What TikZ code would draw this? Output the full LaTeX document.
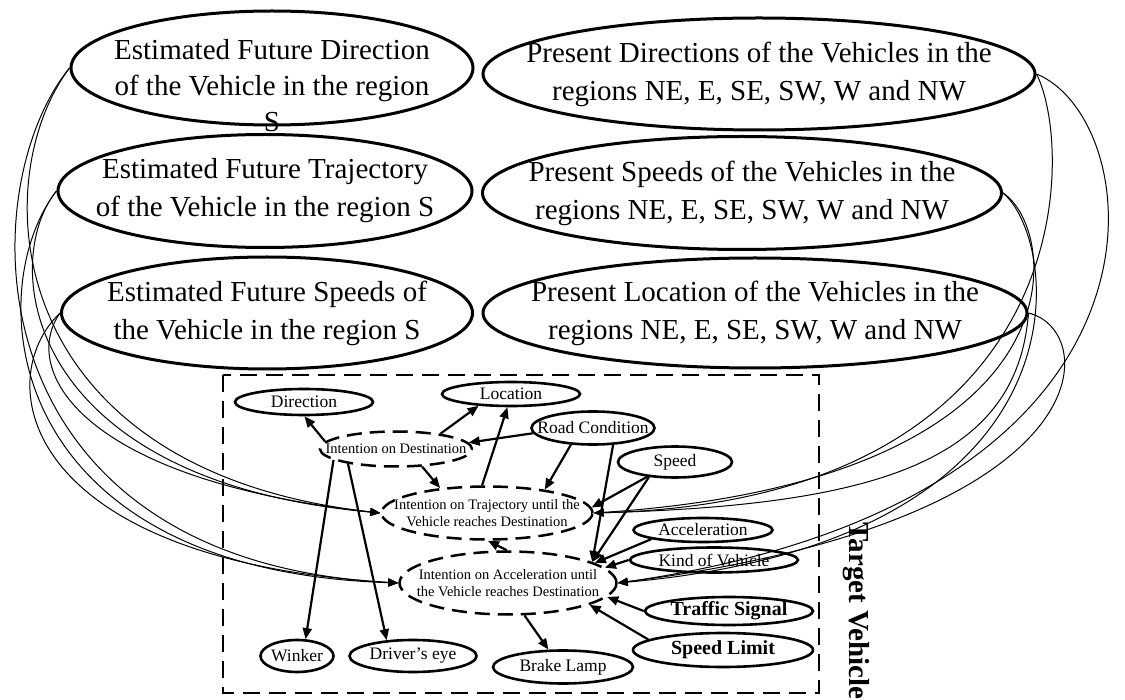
\documentclass[tikz,border=0pt]{standalone}
\usepackage{fontspec}
\setmainfont{Liberation Serif}
\usepackage{tikz}
\usetikzlibrary{shapes, arrows.meta}
\tikzset{
    big/.style={draw, ellipse, line width=3pt, inner xsep=-60pt, inner ysep=0pt, align=center, font=\fontsize{29}{38}\selectfont},
    bigtext/.style={align=center, font=\fontsize{29}{36}\selectfont},
    part/.style={draw, ellipse, line width=2.6pt, inner xsep=-20pt, inner ysep=0pt, font=\fontsize{17.5}{20}\selectfont},
    sign/.style={part, font=\bfseries\fontsize{20}{24}\selectfont},
    intent/.style={draw, ellipse, line width=2.5pt, dash pattern=on 15pt off 8pt, inner xsep=-20pt, inner ysep=0pt, align=center, font=\fontsize{14.5}{17}\selectfont},
    frame/.style={line width=2.8pt, dash pattern=on 17pt off 9pt},
    dep/.style={-{Triangle[length=11pt,width=9pt]}, line width=2.2pt},
    feed/.style={-{Triangle[length=10pt,width=8pt]}, line width=1pt},
}
\begin{document}
\begin{tikzpicture}[x=1pt, y=-1pt]
    \useasboundingbox (0,0) rectangle (1125,700);

    % estimated and present states
    \node [big, minimum width=402pt, minimum height=114pt,
           label={[bigtext, yshift=-18pt]center:{Estimated Future Direction\\of the Vehicle in the region\\S}}] (fdir) at (272,68) {};
    \node [big, minimum width=414pt, minimum height=113pt] (ftraj) at (265,191) {Estimated Future Trajectory\\of the Vehicle in the region S};
    \node [big, minimum width=411pt, minimum height=112pt] (fspd) at (267,313) {Estimated Future Speeds of\\the Vehicle in the region S};
    \node [big, minimum width=552pt, minimum height=112pt] (pdir) at (759,74) {Present Directions of the Vehicles in the\\regions NE, E, SE, SW, W and NW};
    \node [big, minimum width=519pt, minimum height=113pt] (pspd) at (742,193) {Present Speeds of the Vehicles in the\\regions NE, E, SE, SW, W and NW};
    \node [big, minimum width=544pt, minimum height=110pt] (ploc) at (755,313) {Present Location of the Vehicles in the\\regions NE, E, SE, SW, W and NW};

    % target vehicle
    \draw [frame] (223,375) rectangle (819,693);
    \node [rotate=-90, font=\bfseries\fontsize{29}{30}\selectfont] (tv) at (856,611) {Target Vehicle};

    \node [part, minimum width=138pt, minimum height=26pt] (dir) at (304,402) {Direction};
    \node [part, minimum width=138pt, minimum height=24pt] (loc) at (511,394) {Location};
    \node [part, minimum width=123pt, minimum height=33pt] (road) at (593,428) {Road Condition};
    \node [intent, minimum width=152pt, minimum height=35pt] (idest) at (396,449) {Intention on Destination};
    \node [part, minimum width=114pt, minimum height=31pt] (spd) at (675,462) {Speed};
    \node [intent, minimum width=211pt, minimum height=53pt] (itraj) at (487,513) {Intention on Trajectory until the\\Vehicle reaches Destination};
    \node [part, minimum width=139pt, minimum height=24pt] (acc) at (703,530) {Acceleration};
    \node [part, minimum width=168pt, minimum height=25pt] (kind) at (714,560) {Kind of Vehicle};
    \node [intent, minimum width=217pt, minimum height=63pt] (iacc) at (508,583) {Intention on Acceleration until\\the Vehicle reaches Destination};
    \node [sign, minimum width=168pt, minimum height=28pt] (sig) at (729,611) {Traffic Signal};
    \node [sign, minimum width=180pt, minimum height=34pt] (lim) at (723,650) {Speed Limit};
    \node [part, minimum width=73pt, minimum height=32pt] (wink) at (297,656) {Winker};
    \node [part, minimum width=127pt, minimum height=32pt] (eye) at (413,656) {Driver's eye};
    \node [part, minimum width=140pt, minimum height=33pt] (brake) at (563,667) {Brake Lamp};

    \draw [dep] (idest.174) -- (dir.-88);
    \draw [dep] (idest.19) -- (loc.-160);
    \draw [dep] (itraj.100) -- (loc.-105);
    \draw [dep] (road.-175) -- (idest.5);
    \draw [dep] (idest.-34) -- (itraj.152);
    \draw [dep] (road.-143) -- (itraj.22);
    \draw [dep] (road.-40) -- (iacc.14);
    \draw [dep] (spd.-152) -- (itraj.3);
    \draw [dep] (spd.-150) -- (iacc.14);
    \draw [dep] (acc.-170) -- (iacc.13);
    \draw [dep] (kind.west) -- (iacc.9);
    \draw [dep] (sig.west) -- (iacc.-8);
    \draw [dep] (lim.172) -- (iacc.-15);
    \draw [dep] (iacc.92) -- (itraj.-88);
    \draw [dep] (idest.-170) -- (wink.63);
    \draw [dep] (idest.-163) -- (eye.149);
    \draw [dep] (iacc.-63) -- (brake.130);

    % feeds into the intentions
    \draw [feed] (fdir.west) .. controls (-30,190) and (-30,560) .. (iacc.west);
    \draw [feed] (fdir.west) .. controls (-15,180) and (0,470) .. (itraj.west);
    \draw [feed] (ftraj.west) .. controls (0,260) and (20,480) .. (itraj.west);
    \draw [feed] (ftraj.west) .. controls (-20,290) and (0,570) .. (iacc.west);
    \draw [feed] (fspd.west) .. controls (20,370) and (80,480) .. (itraj.west);
    \draw [feed] (fspd.west) .. controls (-10,380) and (20,560) .. (iacc.west);
    \draw [feed] (pdir.east) .. controls (1075,150) and (1080,500) .. (itraj.east);
    \draw [feed] (pdir.east) .. controls (1150,120) and (1200,500) .. (iacc.east);
    \draw [feed] (pspd.east) .. controls (1060,230) and (1090,480) .. (itraj.east);
    \draw [feed] (pspd.east) .. controls (1060,240) and (1100,540) .. (iacc.east);
    \draw [feed] (ploc.east) .. controls (1017,460) and (880,505) .. (itraj.east);
    \draw [feed] (ploc.east) .. controls (1100,330) and (1110,520) .. (iacc.east);
\end{tikzpicture}
\end{document}
